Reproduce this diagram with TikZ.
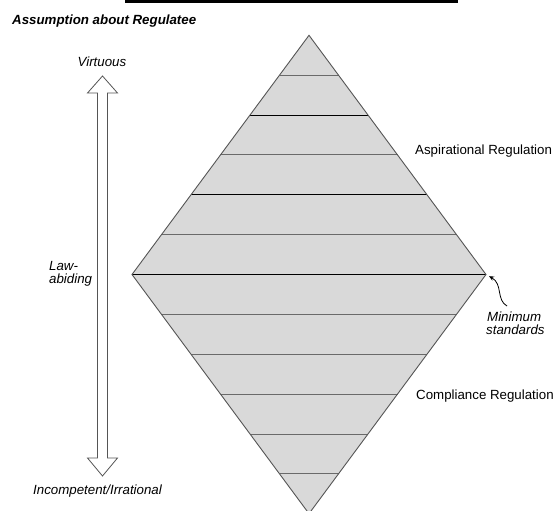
\documentclass[tikz,border=0pt]{standalone}
\usepackage{fontspec}
\setmainfont{Liberation Sans}
\usetikzlibrary{arrows.meta}
\definecolor{fillgray}{HTML}{D9D9D9}
\definecolor{edgegray}{HTML}{555555}
\definecolor{linegray}{HTML}{6A6A6A}
\begin{document}
\begin{tikzpicture}[x=1bp,y=-1bp,
  lbl/.style={font=\fontsize{13.3bp}{15bp}\selectfont, inner sep=0pt},
  ilbl/.style={font=\fontsize{13.3bp}{15bp}\selectfont\itshape, inner sep=0pt},
  tlbl/.style={font=\fontsize{13.3bp}{15bp}\selectfont\bfseries\itshape, inner sep=0pt},
  band/.style={line width=0.9bp},
  hollow/.style={draw=edgegray, line width=0.8bp, fill=white, line join=miter}]
\useasboundingbox (0,0) rectangle (553,511);
% top rule (cut off)
\draw[line width=3bp] (125,2) -- (458,2);
% title
\node[tlbl, anchor=base west] (title) at (12,24.5) {Assumption about Regulatee};
% diamond
\coordinate (T) at (309,35.3);
\coordinate (L) at (132,274.5);
\coordinate (R) at (486,274.5);
\coordinate (B) at (309,513.7);
\fill[fillgray] (T) -- (R) -- (B) -- (L) -- cycle;
\foreach \k/\c in {1/linegray,2/black,3/linegray,4/black,5/linegray}{
  \pgfmathsetmacro{\yy}{35.3+\k*39.87}
  \pgfmathsetmacro{\hw}{177*\k/6}
  \draw[band, draw=\c] (309-\hw,\yy) -- (309+\hw,\yy);
}
\foreach \k in {1,...,5}{
  \pgfmathsetmacro{\yy}{274.5+\k*39.87}
  \pgfmathsetmacro{\hw}{177*(6-\k)/6}
  \draw[band, draw=linegray] (309-\hw,\yy) -- (309+\hw,\yy);
}
\draw[line width=1.4bp] (L) -- (R);
\draw[edgegray, line width=0.9bp, line join=miter] (T) -- (R) -- (B) -- (L) -- cycle;
% double hollow arrow
\draw[hollow] (102.5,76) -- (117.5,93) -- (107.5,93) -- (107.5,458) -- (117.5,458)
  -- (102.5,476) -- (87.5,458) -- (97.5,458) -- (97.5,93) -- (87.5,93) -- cycle;
% left labels
\node[ilbl, anchor=base] (virt) at (102,67) {Virtuous};
\node[ilbl, anchor=base west] (law1) at (49,270) {Law-};
\node[ilbl, anchor=base west] (law2) at (49,283.5) {abiding};
\node[ilbl, anchor=base west] (incomp) at (33,494) {Incompetent/Irrational};
% right labels
\node[lbl, anchor=base west] (asp) at (415,154.5) {Aspirational Regulation};
\node[lbl, anchor=base west] (comp) at (416,399.5) {Compliance Regulation};
\node[ilbl, anchor=base west] (min1) at (487,321.5) {Minimum};
\node[ilbl, anchor=base west] (min2) at (486,334.5) {standards};
% pointer to minimum standards
\coordinate (msstart) at (507,306);
\draw[line width=0.8bp, -{Stealth[length=5bp,width=4.5bp]}, shorten >=3.5bp]
  (msstart) .. controls (496,300) and (503,284) .. (R);
\end{tikzpicture}
\end{document}
